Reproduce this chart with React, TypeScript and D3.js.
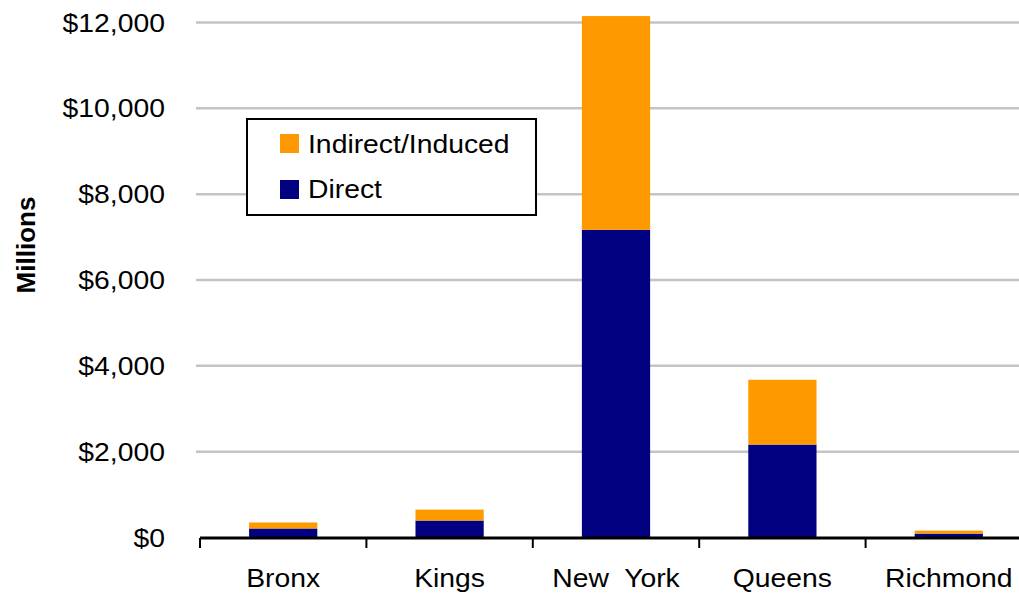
import React from "react";
import * as d3 from "d3";

const categories = ["Bronx", "Kings", "New  York", "Queens", "Richmond"];
const direct = [210, 395, 7170, 2165, 90];
const indirect = [140, 255, 4980, 1510, 70];
const yTicks = [0, 2000, 4000, 6000, 8000, 10000, 12000];
const seriesNames = ["Indirect/Induced", "Direct"];

const W = 1019;
const H = 595;
const ORANGE = "#FF9900";
const NAVY = "#000080";
const FONT = "'Liberation Sans', Arial, sans-serif";
const SX = 1.09;

function T(props: { x: number; y: number; anchor?: string; base?: string; size?: number; children: any }) {
  return (
    <g transform={`translate(${props.x},${props.y}) scale(${SX},1)`}>
      <text
        x={0}
        y={0}
        textAnchor={props.anchor || "start"}
        dominantBaseline={props.base || "auto"}
        fontSize={props.size || 26}
        fill="#000"
        style={{ whiteSpace: "pre" }}
      >
        {props.children}
      </text>
    </g>
  );
}

export default function App() {
  const x = d3
    .scaleBand<string>()
    .domain(categories)
    .range([200, 1032])
    .paddingInner(0.59)
    .paddingOuter(0.295);
  const y = d3.scaleLinear().domain([0, 12000]).range([537.5, 22.5]);
  const step = x.step();
  const fmt = (v: number) => "$" + d3.format(",")(v);

  const rows = categories.map((c, i) => ({ c, d: direct[i], ind: indirect[i] }));
  const stack = d3.stack<any>().keys(["d", "ind"])(rows as any);

  return (
    <svg
      width={W}
      height={H}
      style={{ position: "absolute", left: 0, top: 0, background: "#fff" }}
      fontFamily={FONT}
    >
      {yTicks.map((t) =>
        t === 0 ? null : (
          <line key={t} x1={196} x2={W} y1={y(t)} y2={y(t)} stroke="#c4c4c4" strokeWidth={2.5} />
        )
      )}
      {yTicks.map((t) => (
        <T key={"l" + t} x={165} y={y(t)} anchor="end" base="central">
          {fmt(t)}
        </T>
      ))}
      <text
        transform="translate(26,245) rotate(-90)"
        textAnchor="middle"
        dominantBaseline="central"
        fontSize={26}
        fontWeight="bold"
      >
        Millions
      </text>
      {stack.map((layer, li) =>
        layer.map((seg: any, i: number) => (
          <rect
            key={li + "-" + i}
            x={x(categories[i])}
            width={x.bandwidth()}
            y={y(seg[1])}
            height={y(seg[0]) - y(seg[1])}
            fill={li === 0 ? NAVY : ORANGE}
          />
        ))
      )}
      <line x1={200} x2={W} y1={538} y2={538} stroke="#000" strokeWidth={3} />
      {d3.range(categories.length + 1).map((i) => (
        <line
          key={"t" + i}
          x1={200 + i * step}
          x2={200 + i * step}
          y1={538}
          y2={548}
          stroke="#000"
          strokeWidth={2}
        />
      ))}
      {categories.map((c) => (
        <T key={"c" + c} x={(x(c) as number) + x.bandwidth() / 2} y={587} anchor="middle">
          {c}
        </T>
      ))}
      <g>
        <rect x={247} y={119} width={289} height={96} fill="#fff" stroke="#000" strokeWidth={2} />
        {seriesNames.map((s, i) => (
          <g key={s}>
            <rect x={280} y={134 + i * 46} width={19} height={19} fill={i === 0 ? ORANGE : NAVY} />
            <T x={308} y={153 + i * 45}>
              {s}
            </T>
          </g>
        ))}
      </g>
    </svg>
  );
}
